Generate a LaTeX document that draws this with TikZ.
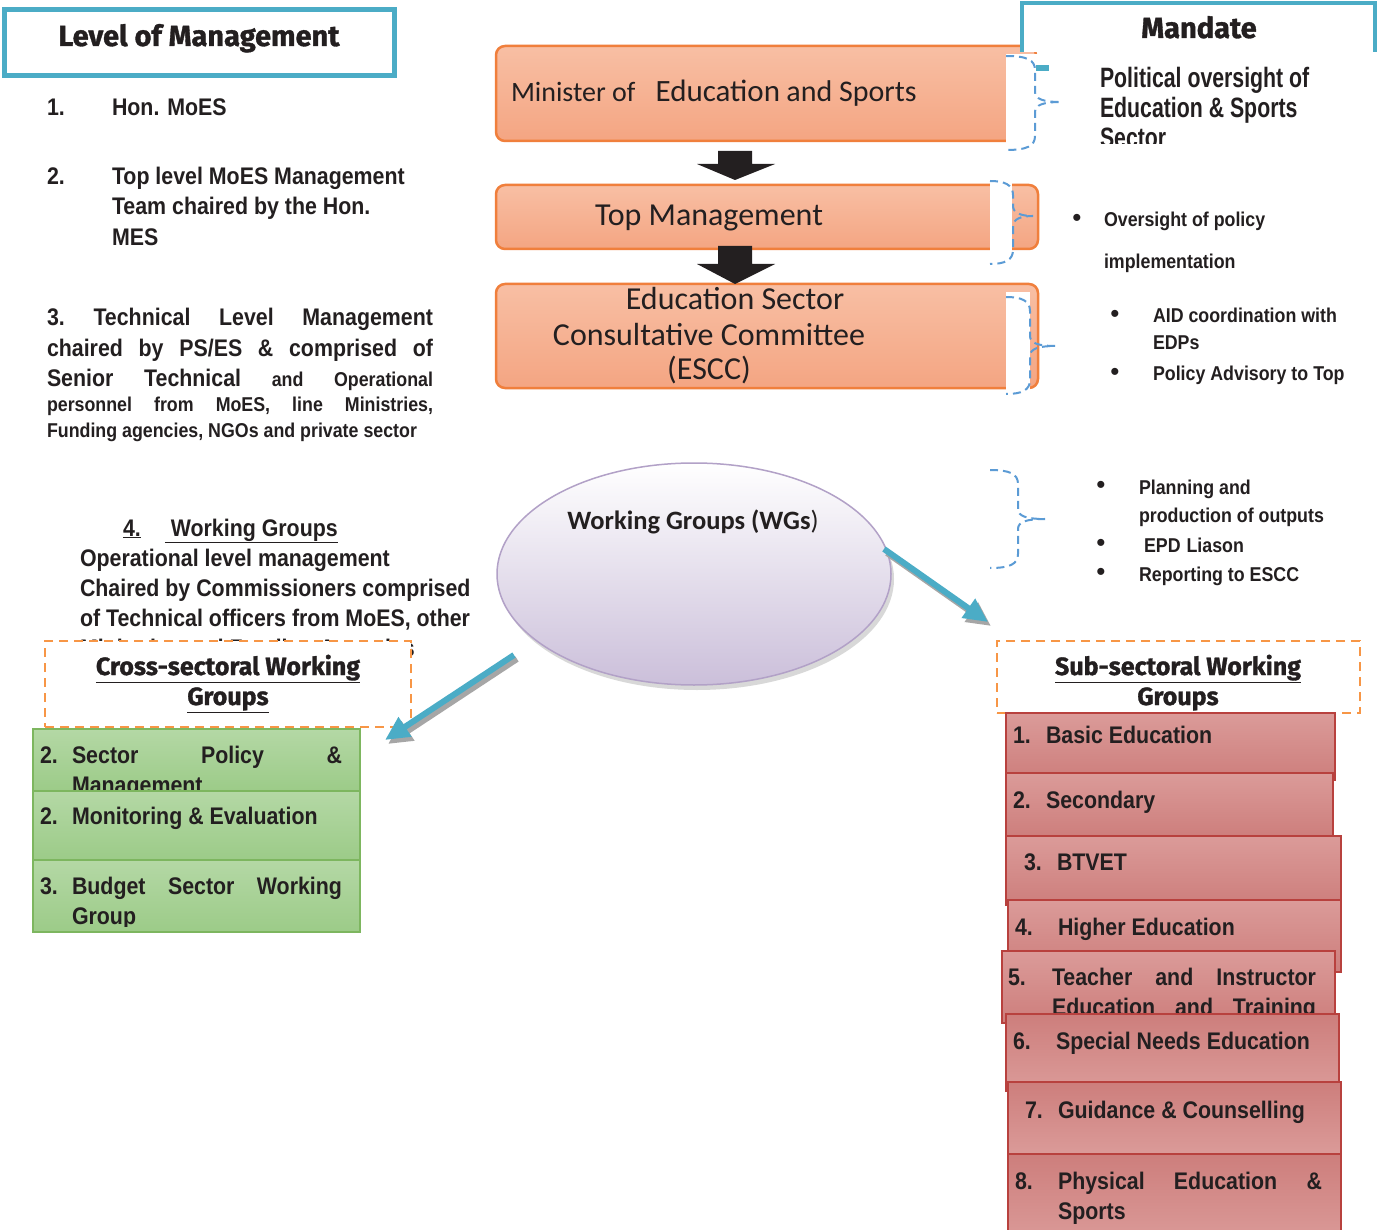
\documentclass[tikz,border=0pt]{standalone}
\usepackage{fontspec}
\setmainfont{Liberation Sans}
\newfontfamily\narfont[FakeStretch=0.89]{Liberation Sans}
\newfontfamily\narmfont[FakeStretch=0.76]{Liberation Sans}
\newfontfamily\calfont{Carlito}
\newfontfamily\headfont[FakeBold=1.2]{Fira Sans}
\usetikzlibrary{arrows.meta,shapes.geometric,shadows,calc}
\newcommand\fz[1]{\fontsize{#1}{30}\selectfont}
\definecolor{teal1}{HTML}{4BACC6}
\definecolor{orbord}{HTML}{F07F3C}
\definecolor{ortop}{HTML}{F8BFA4}
\definecolor{orbot}{HTML}{F4A582}
\definecolor{braceb}{HTML}{5B9BD5}
\definecolor{dashor}{HTML}{F79646}
\definecolor{lav}{HTML}{CBBFDA}
\definecolor{lavb}{HTML}{B2A1C7}
\definecolor{grtop}{HTML}{B4D8A5}
\definecolor{grbot}{HTML}{9CCB88}
\definecolor{grbord}{HTML}{7DB65F}
\definecolor{rdtop}{HTML}{DB9B99}
\definecolor{rdbot}{HTML}{CD7E7C}
\definecolor{rdbord}{HTML}{B8413E}
\definecolor{ink}{HTML}{231F20}
\newcommand\mybrace[6]{\draw[brc] (#1,#2) .. controls ({#4-8},#2) and (#4,{#2+4}) .. (#4,{#2+14}) -- (#4,{#6-10}) .. controls (#4,{#6-3}) and ({#4+8},#6) .. (#5,#6) .. controls ({#4+8},#6) and (#4,{#6+3}) .. (#4,{#6+10}) -- (#4,{#3-14}) .. controls (#4,{#3-4}) and ({#4-8},#3) .. (#1,#3);}
\begin{document}
\begin{tikzpicture}[x=1pt,y=-1pt,
  every node/.style={inner sep=0pt,outer sep=0pt,text=ink},
  txt/.style={anchor=base west,font=\narfont\bfseries\fz{24}},
  rtxt/.style={anchor=base west,font=\narfont\bfseries\fz{20}},
  bul/.style={anchor=center,font=\fz{26}},
  obox/.style={draw=orbord,line width=2.5pt,rounded corners=9pt,top color=ortop,bottom color=orbot,anchor=north west},
  gbox/.style={draw=grbord,line width=1.5pt,top color=grtop,bottom color=grbot,anchor=north west},
  rbox/.style={draw=rdbord,line width=1.5pt,top color=rdtop,bottom color=rdbot,anchor=north west},
  rboxb/.style={rbox,top color=rdbot,bottom color=rdtop},
  dbox/.style={draw=dashor,dash pattern=on 9pt off 6pt,line width=2pt,fill=white,anchor=north west},
  brc/.style={draw=braceb,dash pattern=on 8pt off 5pt,line width=2pt},
  wcover/.style={fill=white,draw=none,anchor=north west},
  tarr/.style={line width=6pt,draw=teal1,-{Triangle[length=24pt,width=22pt]}},
  tarrs/.style={line width=6pt,draw=black!35,-{Triangle[length=24pt,width=22pt]}},
  hd/.style={anchor=base,font=\headfont\bfseries\fz{25}}]
\useasboundingbox (0,0) rectangle (1381,1230);
\fill[white] (0,0) rectangle (1381,1230);

% ---------- left column ----------
\node[draw=teal1,line width=5pt,fill=white,minimum width=390,minimum height=66,anchor=north west] (lvlbox) at (4,10) {};
\node[hd,font=\headfont\bfseries\fz{29}] (lvl) at (199,46) {Level of Management};

\node[txt] (n1) at (47,116) {1.};
\node[txt] (i1) at (112,116) {Hon. MoES};
\node[txt] (n2) at (47,185) {2.};
\node[txt] (i2a) at (112,185) {Top level MoES Management};
\node[txt] (i2b) at (112,215) {Team chaired by the Hon.};
\node[txt] (i2c) at (112,246) {MES};

\node[txt] (i3a) at (47,326) {\makebox[386pt][l]{3.\hfill Technical\hfill Level\hfill Management}};
\node[txt] (i3b) at (47,356) {\makebox[386pt][l]{chaired\hfill by\hfill PS/ES\hfill \&\hfill comprised\hfill of}};
\node[txt] (i3c) at (47,387) {\makebox[386pt][l]{Senior\hfill Technical\hfill {\fz{20}and}\hfill {\fz{20}Operational}}};
\node[txt,font=\narfont\bfseries\fz{20}] (i3d) at (47,411) {\makebox[386pt][l]{personnel\hfill from\hfill MoES,\hfill line\hfill Ministries,}};
\node[txt,font=\narfont\bfseries\fz{20}] (i3e) at (47,437) {Funding agencies, NGOs and private sector};

\node[txt] (i4) at (123,536) {\underline{4.}\hspace{24pt}\underline{\hspace{6pt}Working Groups}};
\node[txt] (i4a) at (80,566) {Operational level management};
\node[txt] (i4b) at (80,596) {Chaired by Commissioners comprised};
\node[txt] (i4c) at (80,626) {of Technical officers from MoES, other};
\node[txt] (i4d) at (80,656) {Ministries and Funding Agencies};

% cross-sectoral
\node[dbox,minimum width=366,minimum height=86] (cross) at (45,641) {};
\node[hd] (crosst1) at (228,675) {\underline{Cross-sectoral Working}};
\node[hd] (crosst2) at (228,705) {\underline{Groups}};

\node[gbox,minimum width=327,minimum height=62] (g1) at (33,729) {};
\node[txt] (g1n) at (40,763) {2.};
\node[txt] (g1a) at (72,763) {\makebox[270pt][l]{Sector\hfill Policy\hfill \&}};
\node[txt] (g1b) at (72,793) {Management};
\node[gbox,minimum width=327,minimum height=69] (g2) at (33,791) {};
\node[txt] (g2n) at (40,824) {2.};
\node[txt] (g2a) at (72,824) {Monitoring \& Evaluation};
\node[gbox,minimum width=327,minimum height=72] (g3) at (33,860) {};
\begin{scope}
\clip (33,860) rectangle (360,926);
\node[txt] (g3n) at (40,894) {3.};
\node[txt] (g3a) at (72,894) {\makebox[270pt][l]{Budget\hfill Sector\hfill Working}};
\node[txt] (g3b) at (72,924) {Group};
\end{scope}

% ---------- centre column ----------
\node[obox,minimum width=540,minimum height=95] (minb) at (496,46) {};
\node[wcover,minimum width=40,minimum height=96] (cov1) at (1006,54) {};
\node[anchor=base west,font=\calfont\fz{28}] (mint) at (511,102) {Minister of\hspace{20pt}{\fz{31}Education} {\fz{30}and Sports}};

\node[obox,minimum width=542,minimum height=64] (topb) at (496,185) {};
\node[wcover,minimum width=22,minimum height=72] (cov2) at (990,182) {};
\node[anchor=base,font=\calfont\fz{32}] (topt) at (709,226) {Top Management};

\node[obox,minimum width=542,minimum height=104] (escb) at (496,284) {};
\node[wcover,minimum width=24,minimum height=100] (cov3) at (1006,292) {};
\node[anchor=base,font=\calfont\fz{32}] (esc1) at (735,310) {Education Sector};
\node[anchor=base,font=\calfont\fz{32}] (esc2) at (709,345) {Consultative Committee};
\node[anchor=base,font=\calfont\fz{32}] (esc3) at (709,380) {(ESCC)};

% block arrows
\fill[ink] (718,151) -- (752,151) -- (752,164) -- (775,164) -- (735,180) -- (697,164) -- (718,164) -- cycle;
\fill[ink] (718,246) -- (752,246) -- (752,264) -- (775,264) -- (735,284) -- (697,264) -- (718,264) -- cycle;

% ellipse
\node[ellipse,minimum width=394,minimum height=222,top color=white,bottom color=lav,draw=lavb,line width=1.5pt,
  drop shadow={shadow xshift=3pt,shadow yshift=-5pt,fill=black!30}] (wg) at (694,574) {};
\node[anchor=base,font=\calfont\fz{26.5}] (wgt) at (693,529) {\bfseries Working Groups (WGs\mdseries)};

% teal arrows
\coordinate (ra1) at (884,549);
\coordinate (ra2) at (988,622);
\coordinate (la1) at (514,655);
\coordinate (la2) at (385,740);
\draw[tarrs] ($(ra1)+(3,4)$) -- ($(ra2)+(3,4)$);
\draw[tarr] (ra1) -- (ra2);
\draw[tarrs] ($(la1)+(3,4)$) -- ($(la2)+(3,4)$);
\draw[tarr] (la1) -- (la2);

% ---------- right column ----------
\node[fill=white,minimum width=353,minimum height=52,anchor=north west] (mand) at (1022,0) {};
\draw[teal1,line width=4pt] (1022,52) -- (1022,3) -- (1375,3) -- (1375,52);
\node[hd,font=\headfont\bfseries\fz{29}] (mandt) at (1199,38) {Mandate};
\fill[teal1] (1036,65) rectangle (1049,71);

\begin{scope}
\clip (1090,50) rectangle (1381,144);
\node[anchor=base west,font=\narmfont\bfseries\fz{28}] (m1a) at (1100,88) {Political oversight of};
\node[anchor=base west,font=\narmfont\bfseries\fz{28}] (m1b) at (1100,118) {Education \& Sports};
\node[anchor=base west,font=\narmfont\bfseries\fz{28}] (m1c) at (1100,148) {Sector};
\end{scope}

\mybrace{1006}{56}{150}{1035}{1061}{102}
\mybrace{990}{181}{264}{1013}{1033}{216}
\mybrace{1006}{297}{394}{1030}{1055}{346}
\mybrace{990}{470}{568}{1018}{1045}{519}

\node[bul] (b1) at (1077,220) {•};
\node[rtxt] (r1a) at (1104,227) {Oversight of policy};
\node[rtxt] (r1b) at (1104,269) {implementation};
\node[bul] (b2) at (1115,316) {•};
\node[rtxt] (r2a) at (1153,323) {AID coordination with};
\node[rtxt] (r2b) at (1153,350) {EDPs};
\node[bul] (b3) at (1115,374) {•};
\node[rtxt] (r3a) at (1153,381) {Policy Advisory to Top};
\node[bul] (b4) at (1101,487) {•};
\node[rtxt] (r4a) at (1139,494) {Planning and};
\node[rtxt] (r4b) at (1139,522) {production of outputs};
\node[bul] (b5) at (1101,545) {•};
\node[rtxt] (r5a) at (1144,552) {EPD\hspace{6pt}Liason};
\node[bul] (b6) at (1101,574) {•};
\node[rtxt] (r6a) at (1139,581) {Reporting to ESCC};

% sub-sectoral
\node[dbox,minimum width=363,minimum height=72] (sub) at (997,641) {};
\node[hd] (subt1) at (1178,675) {\underline{Sub-sectoral Working}};
\node[hd] (subt2) at (1178,705) {\underline{Groups}};

\node[rbox,minimum width=329,minimum height=67] (s1) at (1006,713) {};
\node[txt] (s1n) at (1013,743) {1.};
\node[txt] (s1t) at (1046,743) {Basic Education};
\node[rbox,minimum width=327,minimum height=64] (s2) at (1006,773) {};
\node[txt] (s2n) at (1013,808) {2.};
\node[txt] (s2t) at (1046,808) {Secondary};
\node[rbox,minimum width=335,minimum height=69] (s3) at (1006,836) {};
\node[txt] (s3n) at (1024,870) {3.};
\node[txt] (s3t) at (1057,870) {BTVET};
\node[rbox,minimum width=333,minimum height=72] (s4) at (1008,900) {};
\node[txt] (s4n) at (1015,935) {4.};
\node[txt] (s4t) at (1058,935) {Higher Education};
\node[rbox,minimum width=333,minimum height=72] (s5) at (1002,951) {};
\node[txt] (s5n) at (1008,985) {5.};
\node[txt] (s5a) at (1052,985) {\makebox[264pt][l]{Teacher\hfill and\hfill Instructor}};
\node[txt] (s5b) at (1052,1015) {\makebox[264pt][l]{Education\hfill and\hfill Training}};
\node[rboxb,minimum width=333,minimum height=77] (s6) at (1006,1014) {};
\node[txt] (s6n) at (1013,1049) {6.};
\node[txt] (s6t) at (1056,1049) {Special Needs Education};
\node[rboxb,minimum width=333,minimum height=73] (s7) at (1008,1082) {};
\node[txt] (s7n) at (1025,1118) {7.};
\node[txt] (s7t) at (1058,1118) {Guidance \& Counselling};
\node[rboxb,minimum width=333,minimum height=90] (s8) at (1008,1154) {};
\node[txt] (s8n) at (1015,1189) {8.};
\node[txt] (s8a) at (1058,1189) {\makebox[264pt][l]{Physical\hfill Education\hfill \&}};
\node[txt] (s8b) at (1058,1219) {Sports};
\end{tikzpicture}
\end{document}
